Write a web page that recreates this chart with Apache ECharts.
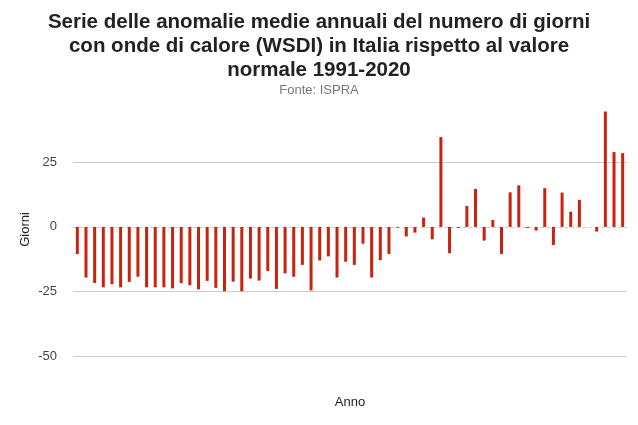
<!DOCTYPE html>
<html>
<head>
<meta charset="utf-8">
<script src="https://cdn.jsdelivr.net/npm/echarts@6/dist/echarts.min.js"></script>
<style>
  html, body { margin: 0; padding: 0; background: #fff; }
  #chart { width: 638px; height: 425px; }
</style>
</head>
<body>
<div id="chart"></div>
<script>
// anomalie WSDI annuali, Italia (giorni rispetto a 1991-2020)
var anni = [];
for (var a = 1961; a <= 2024; a++) anni.push(String(a));

var anomalie = [
  -10.5, -19.6, -21.7, -23.4, -22.2, -23.4, -21.3, -19.3, -23.4, -23.4,
  -23.4, -23.8, -21.8, -22.6, -24.2, -20.9, -23.6, -24.9, -21.2, -24.9,
  -20.0, -20.8, -17.1, -24.0, -18.0, -19.3, -14.7, -24.6, -13.0, -11.4,
  -19.6, -13.5, -14.7, -6.5, -19.6, -12.9, -10.5, -0.3, -3.7, -2.2,
  3.6, -4.8, 34.8, -10.2, -0.4, 8.1, 14.7, -5.3, 2.7, -10.5,
  13.4, 16.1, -0.4, -1.4, 15.0, -7.0, 13.3, 5.9, 10.5, 0,
  -1.8, 44.7, 29.0, 28.6
];

var titolo = 'Serie delle anomalie medie annuali del numero di giorni\ncon onde di calore (WSDI) in Italia rispetto al valore\nnormale 1991-2020';
var fonte = 'Fonte: ISPRA';

var chart = echarts.init(document.getElementById('chart'));

var option = {
    animation: false,
    textStyle: { fontFamily: 'Liberation Sans, Arial, sans-serif' },
    title: [
        {
            text: titolo,
            left: 'center',
            top: 5,
            textStyle: {
                fontSize: 20.5,
                fontWeight: 'bold',
                color: '#222',
                lineHeight: 24
            }
        },
        {
            text: fonte,
            left: 'center',
            top: 79,
            textStyle: { fontSize: 13, fontWeight: 'normal', color: '#777' }
        }
    ],
    grid: {
        left: 73,
        right: 11,
        top: 103,
        bottom: 69
    },
    xAxis: {
        type: 'category',
        data: anni,
        name: 'Anno',
        nameLocation: 'middle',
        nameGap: 40,
        nameTextStyle: { fontSize: 13, color: '#222' },
        axisLine: { show: true, lineStyle: { color: '#ccc', type: [3, 3] } },
        axisTick: { show: false },
        axisLabel: { show: false }
    },
    yAxis: {
        type: 'value',
        min: -50,
        max: 48,
        interval: 25,
        name: 'Giorni',
        nameLocation: 'middle',
        nameGap: 41,
        nameMoveOverlap: false,
        nameTextStyle: { fontSize: 13, color: '#222' },
        axisLine: { show: false },
        axisTick: { show: false },
        axisLabel: { fontSize: 13, color: '#444', margin: 16, showMaxLabel: false },
        splitLine: {
            lineStyle: { color: ['#ccc', '#ccc', 'transparent', '#ccc', 'transparent'], width: 1 }
        }
    },
    series: [
        {
            type: 'bar',
            data: anomalie,
            barWidth: 3,
            itemStyle: { color: '#c8230f' }
        }
    ]
};

chart.setOption(option);
</script>
</body>
</html>
